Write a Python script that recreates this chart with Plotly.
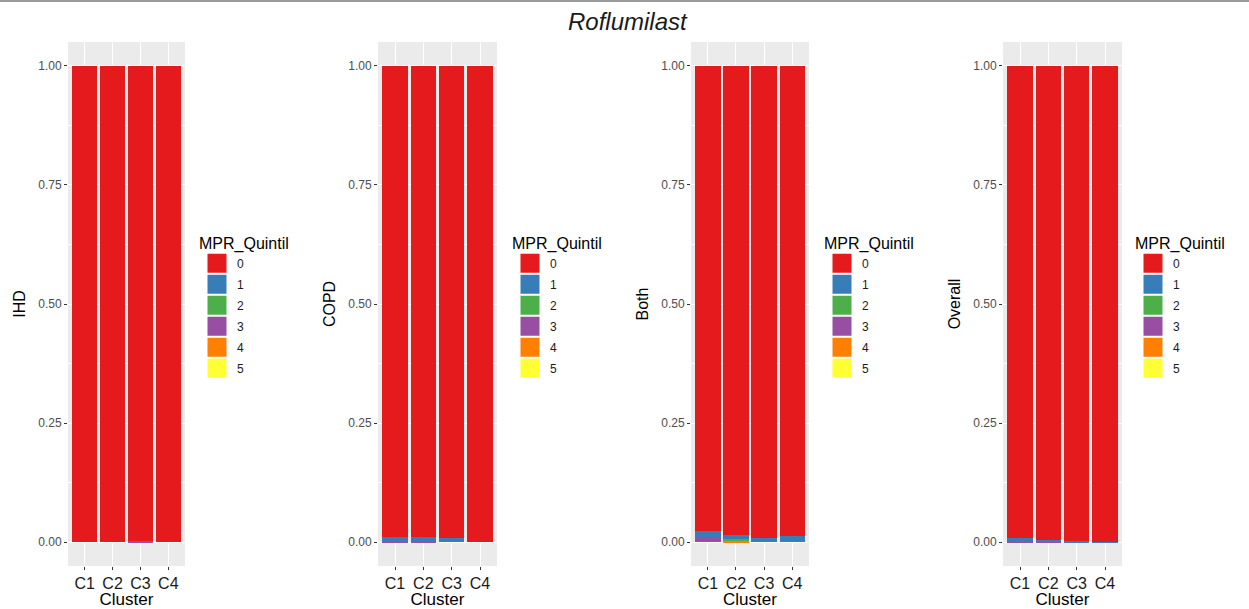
import plotly.graph_objects as go

# ---------------- data ----------------
clusters = ["C1", "C2", "C3", "C4"]
quintiles = ["0", "1", "2", "3", "4", "5"]
panel_names = ["IHD", "COPD", "Both", "Overall"]
colors = ["#E41A1C", "#377EB8", "#4DAF4A", "#984EA3", "#FF7F00", "#FFFF33"]

ihd_q0 = [1.000, 1.000, 0.997, 1.000]
ihd_q1 = [0.000, 0.000, 0.001, 0.000]
ihd_q2 = [0.000, 0.000, 0.000, 0.000]
ihd_q3 = [0.000, 0.000, 0.002, 0.000]
ihd_q4 = [0.000, 0.000, 0.000, 0.000]
ihd_q5 = [0.000, 0.000, 0.000, 0.000]

copd_q0 = [0.989, 0.989, 0.992, 1.000]
copd_q1 = [0.009, 0.009, 0.008, 0.000]
copd_q2 = [0.000, 0.000, 0.000, 0.000]
copd_q3 = [0.002, 0.002, 0.000, 0.000]
copd_q4 = [0.000, 0.000, 0.000, 0.000]
copd_q5 = [0.000, 0.000, 0.000, 0.000]

both_q0 = [0.977, 0.984, 0.992, 0.988]
both_q1 = [0.013, 0.010, 0.008, 0.012]
both_q2 = [0.000, 0.002, 0.000, 0.000]
both_q3 = [0.010, 0.000, 0.000, 0.000]
both_q4 = [0.000, 0.004, 0.000, 0.000]
both_q5 = [0.000, 0.000, 0.000, 0.000]

overall_q0 = [0.991, 0.996, 0.997, 0.999]
overall_q1 = [0.007, 0.002, 0.003, 0.001]
overall_q2 = [0.000, 0.000, 0.000, 0.000]
overall_q3 = [0.002, 0.002, 0.000, 0.000]
overall_q4 = [0.000, 0.000, 0.000, 0.000]
overall_q5 = [0.000, 0.000, 0.000, 0.000]

y_ticks = [0, 0.25, 0.5, 0.75, 1.0]
y_ticklabels = ["0.00", "0.25", "0.50", "0.75", "1.00"]

panels = [
    [ihd_q0, ihd_q1, ihd_q2, ihd_q3, ihd_q4, ihd_q5],
    [copd_q0, copd_q1, copd_q2, copd_q3, copd_q4, copd_q5],
    [both_q0, both_q1, both_q2, both_q3, both_q4, both_q5],
    [overall_q0, overall_q1, overall_q2, overall_q3, overall_q4, overall_q5],
]

# ---------------- layout geometry ----------------
W, H = 1249, 609
FONT = "Liberation Sans, Arial, Helvetica, sans-serif"
x_px = [(68, 185), (378, 497), (691, 809), (1003, 1122)]
y_dom = [1 - 566 / H, 1 - 42 / H]
legend_left_px = [197, 510, 822, 1133]
legend_top_px = 228

fig = go.Figure()

for p, series in enumerate(panels):
    ax = "" if p == 0 else str(p + 1)
    # stack bottom-up: quintile 5 first, 0 last (on top)
    for q in reversed(range(6)):
        fig.add_trace(go.Bar(
            x=clusters, y=series[q], name=quintiles[q],
            marker=dict(color=colors[q], line=dict(width=0)),
            showlegend=False, xaxis="x" + ax, yaxis="y" + ax,
        ))
    # legend entries
    leg = "legend" + ax
    for q in range(6):
        fig.add_trace(go.Scatter(
            x=[None], y=[None], mode="markers", name=quintiles[q],
            marker=dict(symbol="square", size=16, color=colors[q],
                        line=dict(color=colors[q], width=3)),
            legend=leg, legendgroup=f"p{p}q{q}",
            xaxis="x" + ax, yaxis="y" + ax, hoverinfo="skip",
        ))

    x0, x1 = x_px[p]
    fig.layout["xaxis" + ax] = dict(
        domain=[x0 / W, x1 / W], anchor="y" + ax, type="category",
        categoryorder="array", categoryarray=clusters,
        range=[-0.6, 3.6], showgrid=True, gridcolor="white", gridwidth=1.1,
        zeroline=False, showline=False, ticks="outside", ticklen=3,
        tickcolor="#333333", tickwidth=1,
        tickfont=dict(family=FONT, size=16, color="#1a1a1a"),
        title=dict(text="Cluster", font=dict(family=FONT, size=17, color="#000"),
                   standoff=3),
        fixedrange=True,
    )
    fig.layout["yaxis" + ax] = dict(
        domain=y_dom, anchor="x" + ax, range=[-0.05, 1.05],
        tickvals=y_ticks, ticktext=y_ticklabels,
        showgrid=True, gridcolor="white", gridwidth=1.1,
        minor=dict(showgrid=True, gridcolor="white", gridwidth=0.5,
                   tickvals=[0.125, 0.375, 0.625, 0.875]),
        zeroline=False, showline=False, ticks="outside", ticklen=3,
        tickcolor="#333333", tickwidth=1,
        tickfont=dict(family=FONT, size=12, color="#4d4d4d"),
        title=dict(text=panel_names[p], font=dict(family=FONT, size=16, color="#000"),
                   standoff=8),
        fixedrange=True,
    )
    fig.layout[leg] = dict(
        x=legend_left_px[p] / W, y=1 - legend_top_px / H,
        xanchor="left", yanchor="top", bgcolor="rgba(0,0,0,0)",
        borderwidth=0, tracegroupgap=2, itemclick=False,
        title=dict(text="MPR_Quintil", font=dict(family=FONT, size=16, color="#000")),
        font=dict(family=FONT, size=12, color="#1a1a1a"),
    )

fig.update_layout(
    width=W, height=H, barmode="stack", bargap=0.1,
    margin=dict(l=0, r=0, t=0, b=0),
    paper_bgcolor="white", plot_bgcolor="#EBEBEB",
    font=dict(family=FONT),
    annotations=[dict(
        text="<i>Roflumilast</i>", x=628 / W, y=1 - 22 / H,
        xref="paper", yref="paper", xanchor="center", yanchor="middle",
        showarrow=False, font=dict(family=FONT, size=24, color="#1a1a1a"),
    )],
    shapes=[dict(type="line", xref="paper", yref="paper",
                 x0=0, x1=1, y0=1 - 1 / H, y1=1 - 1 / H,
                 line=dict(color="#9a9a9a", width=2))],
)

fig.write_html("out.html")
